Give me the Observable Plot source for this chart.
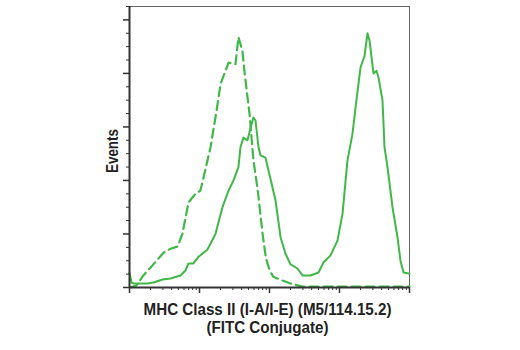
<!DOCTYPE html>
<html>
<head>
<meta charset="utf-8">
<script src="https://cdn.jsdelivr.net/npm/d3@7"></script>
<script src="https://cdn.jsdelivr.net/npm/@observablehq/plot@0.6"></script>
<style>
  html, body { margin: 0; padding: 0; background: #fff; }
  #chart { width: 520px; height: 350px; }
</style>
</head>
<body>
<div id="chart"></div>
<script>
// Isotype control (dashed) — fluorescence intensity vs events
const controlX = [1, 1.26, 1.58, 2.0, 2.6, 3.06, 3.85, 4.85, 5.7, 6.96, 8.77, 10.3, 11.4, 14.4, 17.5, 20, 22, 26, 32.7, 36, 41, 44, 48.5, 51.8, 59, 67.4, 74.4, 81, 89, 100, 113, 153, 200, 296, 1000, 10000];
const controlY = [0, 1.5, 9, 15, 21.7, 26, 29, 30.6, 40, 63.5, 70, 72.5, 82, 105, 132, 152, 158, 168, 167, 187, 177, 161, 142, 130, 95, 74, 54, 37, 22, 13, 8, 5.2, 3, 0.7, 0.7, 0.7];

// MHC Class II stained sample (solid)
const sampleX = [1, 1.07, 1.14, 1.35, 1.81, 2.2, 2.96, 3.85, 5.35, 6.3, 6.96, 8.2, 9.7, 13, 16.9, 21.3, 26, 30.6, 36, 38.5, 42.5, 48.5, 53.5, 59, 63, 69.6, 74.4, 87.7, 96.8, 122, 144, 169, 200, 251, 296, 385, 501, 590, 744, 936, 1104, 1300, 1534, 1694, 1995, 2275, 2512, 2683, 3060, 3378, 3606, 4110, 4394, 4850, 5715, 6740, 7430, 8210, 9680, 10000];
const sampleY = [11, 3.7, 3, 3, 3, 3.7, 6, 6.7, 9, 12.7, 18, 18, 23, 28.4, 40, 60, 72.5, 80, 90, 105, 112, 110, 119, 127, 125, 105, 98.7, 97, 87.4, 65, 37.4, 25.4, 17.2, 14.2, 9, 9, 11.2, 18.7, 24, 35, 55, 95, 115, 134.5, 164.4, 173, 190, 184.6, 160, 162, 157, 140, 105, 90, 60, 37.4, 20, 11.2, 10.5, 10.5];

const yMajorTicks = [0, 40, 80, 120, 160, 200];
const yMinorTicks = [10, 20, 30, 50, 60, 70, 90, 100, 110, 130, 140, 150, 170, 180, 190, 210];
const xMajorTicks = [1, 10, 100, 1000, 10000];
const xMinorTicks = [2, 3, 4, 5, 6, 7, 8, 9, 20, 30, 40, 50, 60, 70, 80, 90, 200, 300, 400, 500, 600, 700, 800, 900, 2000, 3000, 4000, 5000, 6000, 7000, 8000, 9000];

const xLabel = "MHC Class II (I-A/I-E) (M5/114.15.2)\n(FITC Conjugate)";
const yLabel = "Events";

const control = controlX.map((x, i) => ({x, y: controlY[i]}));
const sample = sampleX.map((x, i) => ({x, y: sampleY[i]}));

const green = "#3fb848";
const axisColor = "#333";
const font = "'Liberation Sans Narrow', 'Arial Narrow', 'Liberation Sans', sans-serif";

const chart = Plot.plot({
  width: 520,
  height: 350,
  marginLeft: 129,
  marginRight: 111,
  marginTop: 6,
  marginBottom: 63,
  style: {fontFamily: font, background: "#fff"},
  x: {type: "log", domain: [1, 10000]},
  y: {domain: [0, 210]},
  marks: [
    Plot.frame({stroke: "#666", strokeWidth: 1}),
    Plot.line(control, {x: "x", y: "y", stroke: green, strokeWidth: 2.2, strokeDasharray: "9,5", curve: "linear"}),
    Plot.line(sample, {x: "x", y: "y", stroke: green, strokeWidth: 2, curve: "linear"}),
    Plot.axisY({ticks: yMajorTicks, tickSize: 6, tickFormat: () => "", stroke: axisColor, strokeWidth: 1.5, label: null}),
    Plot.axisY({ticks: yMinorTicks, tickSize: 3, tickFormat: () => "", stroke: axisColor, strokeWidth: 1, label: null}),
    Plot.axisX({ticks: xMajorTicks, tickSize: 6, tickFormat: () => "", stroke: axisColor, strokeWidth: 1.5, label: null}),
    Plot.axisX({ticks: xMinorTicks, tickSize: 3, tickFormat: () => "", stroke: axisColor, strokeWidth: 1, label: null}),
    Plot.ruleX([1], {stroke: axisColor, strokeWidth: 2}),
    Plot.ruleY([0], {stroke: axisColor, strokeWidth: 2}),
    Plot.text([xLabel], {frameAnchor: "bottom", lineAnchor: "top", dx: -2, dy: 14, fontSize: 17, fontWeight: "bold", fill: "#222", lineHeight: 1.1}),
    Plot.text([yLabel], {frameAnchor: "left", textAnchor: "middle", rotate: -90, dx: -17, dy: 4, fontSize: 17, fontWeight: "bold", fill: "#222"})
  ]
});
document.getElementById("chart").appendChild(chart);

// condense the label lettering (reference uses a condensed bold face)
const texts = chart.querySelectorAll('g[aria-label="text"] text');
const targets = [248, 44];
texts.forEach((t, i) => {
  const w = t.getBBox().width;
  const s = Math.min(1, targets[i] / w);
  const tr = t.getAttribute("transform") || "";
  t.setAttribute("transform", tr + ` scale(${s.toFixed(3)},1)`);
});
</script>
</body>
</html>
